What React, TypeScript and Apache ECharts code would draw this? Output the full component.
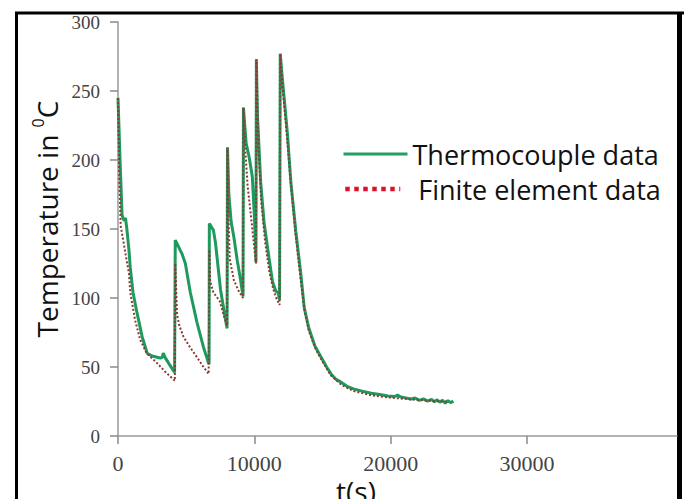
import React, { useEffect, useRef } from "react";
import * as echarts from "echarts";

// Thermocouple (measured) data: time [s], temperature [°C]
const tcTime = [0, 150, 300, 450, 550, 650, 800, 900, 1100, 1400, 1770, 2140, 2500, 3100, 3250, 3320, 3450, 3700, 4150,
  4200, 4695, 4940, 5305, 5800, 6265, 6635, 6680,
  6700, 7000, 7150, 7520, 7890, 8000,
  8030, 8130, 8300, 8500, 8750, 8990, 9170,
  9200, 9400, 9620, 9850, 10000, 10080, 10120,
  10150, 10225, 10466, 10710, 11078, 11329, 11572, 11742, 11850,
  11900, 12000, 12185, 12435, 12678, 13046, 13415, 13658, 14000, 14450, 14900, 15300, 15626, 16000, 16363, 16800, 17321,
  17900, 18574, 19200, 19805, 20300, 20500, 20700, 21000, 21500, 21800, 22100, 22400, 22700, 23000, 23200, 23400, 23600,
  23800, 24000, 24200, 24400, 24600];
const tcTemp = [245, 200, 160, 156, 158, 150, 135, 122, 104, 89, 72, 60, 58, 56.5, 57, 60, 57, 53, 46,
  142, 132, 125, 104, 82, 64.5, 53, 52,
  154, 149, 140, 106, 84, 78,
  209, 175, 155, 144, 127, 113, 101,
  238, 212, 202, 188, 160, 140, 126,
  273, 233, 184, 155, 129, 112, 105, 104, 98.5,
  277, 265, 245, 218, 184, 148, 117, 93, 78, 65, 57, 50, 45, 41, 39, 36, 34,
  32.5, 31, 30, 29, 28.6, 29.6, 28.4, 27.8, 26.8, 27.5, 25.8, 26.9, 25.3, 26.5, 24.8, 26.2, 24.5,
  25.9, 23.8, 25.6, 24.2, 25.3];

// Finite element (simulated) data
const feTime = [0, 100, 200, 400, 550, 800, 900, 1250, 1620, 2100, 2850, 3460, 4070, 4170,
  4200, 4330, 4500, 4800, 5300, 5800, 6200, 6650,
  6700, 6760, 7000, 7450, 7800, 8000,
  8030, 8100, 8200, 8500, 8800, 9170,
  9200, 9350, 9500, 9800, 10050, 10120,
  10150, 10300, 10500, 10800, 11100, 11400, 11650, 11850,
  11900, 12050, 12300, 12600, 13000, 13400, 13700, 14000, 14500, 15000, 15600, 16400, 17300, 18600, 19800, 21500, 23000, 24200];
const feTemp = [245, 185, 152, 141, 132, 118, 104, 84, 70, 60, 53, 46.6, 41, 40,
  125, 88, 80, 72, 64, 57, 51, 45,
  135, 112, 104, 98, 86, 80,
  209, 160, 128, 113, 106, 100,
  238, 205, 182, 155, 131, 125,
  273, 212, 170, 140, 119, 106, 99, 95,
  277, 255, 228, 192, 148, 113, 90, 76, 63, 54, 44, 37, 32.5, 29.5, 28, 26.5, 25.5, 24.8];

const yTicks = [0, 50, 100, 150, 200, 250, 300];
const xTicks = [0, 10000, 20000, 30000];

const tcName = "Thermocouple data";
const feName = "Finite element data";

export default function App() {
  const ref = useRef<HTMLDivElement>(null);
  useEffect(() => {
    if (!ref.current) return;
    const chart = echarts.init(ref.current, undefined, { renderer: "svg" });
    const tcData = tcTime.map((t, i) => [t, tcTemp[i]]);
    const feData = feTime.map((t, i) => [t, feTemp[i]]);
    const sans = "Open Sans";
    const serif = "Liberation Serif";
    chart.setOption({
      animation: false,
      backgroundColor: "#ffffff",
      grid: { left: 118, top: 22, right: 7, bottom: 63, containLabel: false },
      xAxis: {
        type: "value",
        min: 0,
        max: 41000,
        interval: 10000,
        axisLine: { show: true, lineStyle: { color: "#9a9a9a", width: 1.5 } },
        axisTick: { show: true, length: 8, customValues: xTicks, lineStyle: { color: "#8a8a8a", width: 1.5 } },
        axisLabel: {
          customValues: xTicks,
          margin: 16,
          fontFamily: serif,
          fontSize: 22,
          color: "#444",
          formatter: (v: number) => String(v),
        },
        splitLine: { show: false },
      },
      yAxis: {
        type: "value",
        min: 0,
        max: 300,
        interval: 50,
        axisLine: { show: true, lineStyle: { color: "#9a9a9a", width: 1.5 } },
        axisTick: { show: true, length: 8, lineStyle: { color: "#8a8a8a", width: 1.5 } },
        axisLabel: { customValues: yTicks, margin: 18, fontFamily: serif, fontSize: 19, color: "#444" },
        splitLine: { show: false },
      },
      legend: [
        {
          data: [tcName],
          left: 342,
          top: 140,
          padding: 0,
          orient: "vertical",
          itemWidth: 64,
          itemHeight: 14,
          textStyle: { fontFamily: sans, fontSize: 27, color: "#111", lineHeight: 28 },
          lineStyle: { width: 3, color: "#22a064" },
          itemStyle: { color: "transparent", borderWidth: 0, opacity: 0 },
          selectedMode: false,
        },
        {
          data: [feName],
          left: 343,
          top: 175,
          padding: 0,
          orient: "vertical",
          itemWidth: 55,
          itemHeight: 14,
          textStyle: { fontFamily: sans, fontSize: 27, color: "#111", lineHeight: 28, padding: [0, 0, 0, 13] },
          lineStyle: { width: 4.5, type: [4.5, 4.5], color: "#e0102a" },
          itemStyle: { color: "transparent", borderWidth: 0, opacity: 0 },
          selectedMode: false,
        },
      ],
      series: [
        {
          name: tcName,
          type: "line",
          data: tcData,
          symbol: "none",
          showSymbol: false,
          lineStyle: { color: "#1f9a5e", width: 3 },
          itemStyle: { color: "#1f9a5e" },
          z: 2,
        },
        {
          name: feName,
          type: "line",
          data: feData,
          symbol: "none",
          showSymbol: false,
          lineStyle: { color: "#8a3a32", width: 2, type: [2, 2] },
          itemStyle: { color: "#e0102a" },
          z: 3,
        },
      ],
      graphic: [
        {
          type: "text",
          x: 47,
          y: 219,
          rotation: Math.PI / 2,
          style: {
            text: "{a|Temperature in }{b|0}{a|C}",
            align: "center",
            verticalAlign: "middle",
            fill: "#111",
            rich: {
              a: { fontFamily: sans, fontSize: 28, fill: "#111", lineHeight: 34 },
              b: { fontFamily: sans, fontSize: 16, fill: "#111", lineHeight: 34, verticalAlign: "top", padding: [0, 0, 14, 0] },
            },
          },
        },
        {
          type: "text",
          x: 356,
          y: 477,
          style: { text: "t(s)", align: "center", verticalAlign: "top", fontFamily: sans, fontSize: 28, fill: "#111" },
        },
        { type: "line", shape: { x1: 15, y1: 13, x2: 684, y2: 13 }, style: { stroke: "#000", lineWidth: 3 } },
        { type: "line", shape: { x1: 16.5, y1: 12, x2: 16.5, y2: 499 }, style: { stroke: "#000", lineWidth: 3 } },
        { type: "line", shape: { x1: 679.5, y1: 12, x2: 679.5, y2: 499 }, style: { stroke: "#000", lineWidth: 5 } },
      ],
    });
    return () => chart.dispose();
  }, []);
  return <div ref={ref} style={{ position: "fixed", left: 0, top: 0, width: 684, height: 499 }} />;
}
